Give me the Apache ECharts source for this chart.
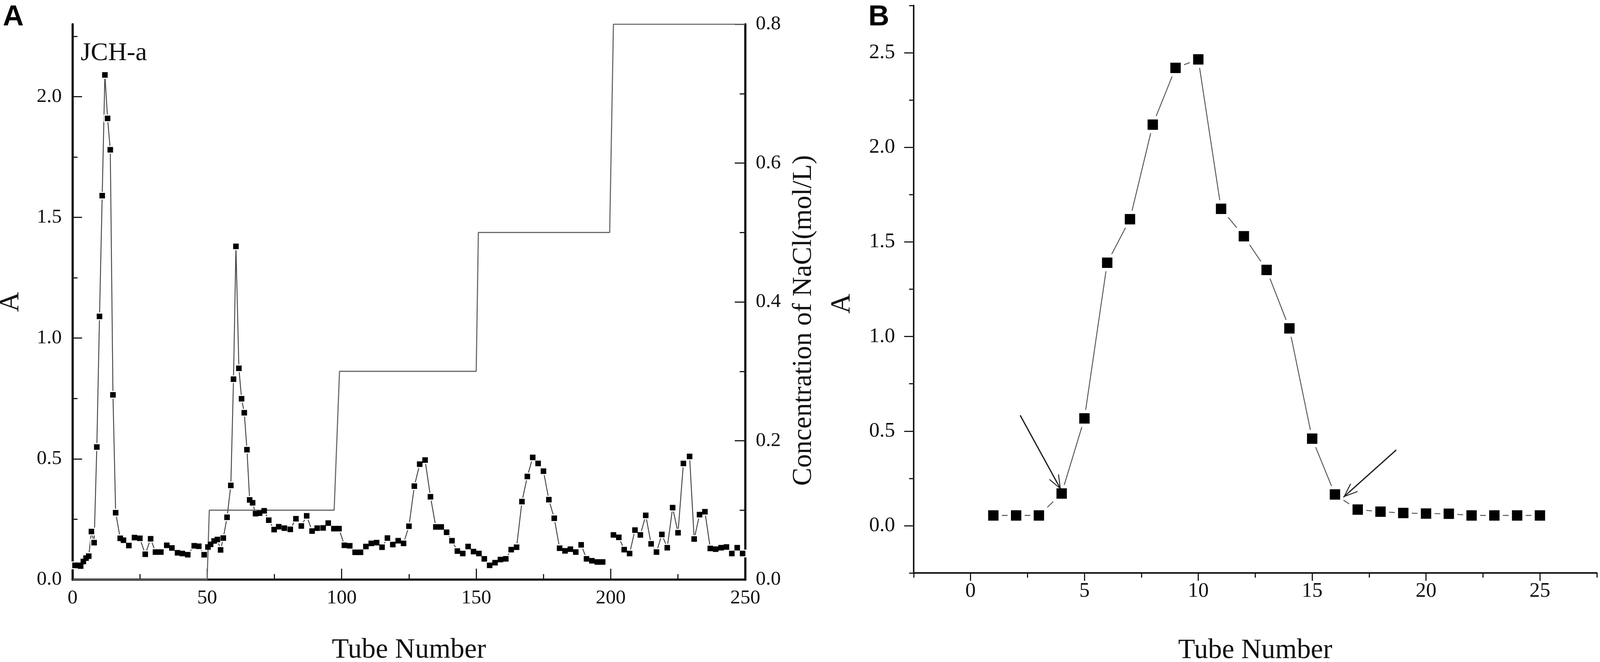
<!DOCTYPE html>
<html>
<head>
<meta charset="utf-8">
<script src="https://cdn.jsdelivr.net/npm/echarts@6/dist/echarts.min.js"></script>
<style>
html,body{margin:0;padding:0;background:#fff;overflow:hidden;}
#chart{width:100vw;height:100vh;}
</style>
</head>
<body>
<div id="chart"></div>
<script>
// ---------- Panel A: absorbance per tube ----------
const tubesA = [0.9,2,3,4,5,6,7,8,9,10,11,12,13,14,15,16,17.7,18.9,20.9,23,25,27,29,30.8,32.8,35,36.9,39,40.8,42.8,45.2,46.9,48.9,50.3,51.3,52.6,53.8,55,56,57.4,58.8,59.8,60.7,61.8,62.8,63.8,64.8,65.8,66.9,68,69.5,71.2,72.9,74.9,76.6,78.7,80.9,83,85,87,89,90.9,93.1,95,97.1,99,101,103,105,107,109,111,113,115,117,119,121,123,125,127,129,131,133,135,137,139,141,143,145,147,149,151,153,155,157,159,161,163,165,167,169,171,173,175,177,179,181,183,185,187,189,191,193,195,197,199,201,203,205,207,209,211,213,215,217,219,221,223,225,227,229.3,231,233,235,237,239,241,243,245,247,249];
const absA = [0.059,0.059,0.056,0.075,0.089,0.097,0.199,0.153,0.549,1.09,1.59,2.09,1.91,1.78,0.765,0.277,0.171,0.163,0.141,0.174,0.171,0.105,0.169,0.114,0.114,0.142,0.131,0.111,0.108,0.103,0.14,0.138,0.103,0.135,0.146,0.16,0.166,0.123,0.172,0.258,0.39,0.83,1.38,0.875,0.749,0.691,0.538,0.33,0.318,0.273,0.275,0.285,0.246,0.207,0.219,0.213,0.208,0.252,0.222,0.264,0.201,0.213,0.214,0.234,0.211,0.211,0.142,0.14,0.113,0.113,0.137,0.15,0.153,0.134,0.172,0.145,0.161,0.15,0.221,0.387,0.478,0.495,0.343,0.218,0.218,0.196,0.161,0.118,0.108,0.137,0.116,0.108,0.086,0.059,0.07,0.083,0.086,0.124,0.134,0.323,0.427,0.506,0.481,0.449,0.331,0.254,0.13,0.119,0.126,0.114,0.144,0.086,0.078,0.073,0.073,null,0.185,0.175,0.124,0.108,0.205,0.185,0.266,0.148,0.114,0.187,0.132,0.298,0.194,0.481,0.51,0.168,0.269,0.281,0.129,0.126,0.132,0.135,0.108,0.132,0.108];

// ---------- Panel A: NaCl step gradient ----------
const stepTubes = [0,50,50.8,97.2,99.2,150,150.8,199.6,201,250];
const stepConc  = [0,0,0.1,0.1,0.3,0.3,0.5,0.5,0.8,0.8];

// ---------- Panel B ----------
const tubesB = [1,2,3,4,5,6,7,8,9,10,11,12,13,14,15,16,17,18,19,20,21,22,23,24,25];
const absB = [0.054,0.054,0.054,0.17,0.567,1.39,1.62,2.12,2.42,2.465,1.675,1.53,1.352,1.043,0.46,0.165,0.085,0.074,0.067,0.064,0.063,0.054,0.054,0.054,0.054];

// arrows in panel B: [startX, startY, tipX, tipY, headCenterX, headCenterY]
const arrowB1 = [2.18,0.583,3.97,0.19,3.81,0.225];
const arrowB2 = [18.69,0.40,16.37,0.15,16.61,0.176];

// ---------- tick values ----------
const yLabelsA = [0,0.5,1.0,1.5,2.0];
const yMinorA = [0.25,0.75,1.25,1.75,2.25];
const xLabelsB = [0,5,10,15,20,25];
const xMinorB = [-2.5,2.5,7.5,12.5,17.5,22.5,27.5];
const yLabelsB = [0,0.5,1.0,1.5,2.0,2.5];
const yMinorB = [-0.25,0.25,0.75,1.25,1.75,2.25,2.75];

const el = document.getElementById('chart');
const W = el.clientWidth || window.innerWidth;
const H = el.clientHeight || window.innerHeight;
const sx = W / 4562, sy = H / 1695, s = (sx + sy) / 2;
const X = v => v * sx, Y = v => v * sy, S = v => v * s;

const serif = 'Liberation Serif';
const ink = '#111';
const dataA = tubesA.map((t,i)=>[t, absA[i]===null ? '-' : absA[i]]);
const dataStep = stepTubes.map((t,i)=>[t, stepConc[i]]);
const dataB = tubesB.map((t,i)=>[t, absB[i]]);

const arrowHead = 'path://M0,0 L12,20 L10.4,21 L0,3.6 L-10.4,21 L-12,20 Z';
function arrowLines(a){
  return [
    [{coord:[a[0],a[1]], symbol:'none'},{coord:[a[2],a[3]], symbol:'none'}],
    [{coord:[a[0],a[1]], symbol:'none'},{coord:[a[4],a[5]], symbol:arrowHead}]
  ];
}

const lab = (size, margin, extra) => Object.assign({fontFamily:serif,fontSize:S(size),color:ink,margin:margin}, extra||{});
const nameStyle = (size, extra) => Object.assign({fontFamily:serif,fontSize:S(size),color:ink}, extra||{});
const tickLine = w => ({color:ink,width:S(w)});

const chart = echarts.init(el, null, {renderer:'canvas', width:W, height:H});
const option = {
  animation:false,
  backgroundColor:'#fff',
  grid:[
    {left:X(207),top:Y(62),width:X(1918),height:Y(1422),outerBoundsMode:'none',containLabel:false},
    {left:X(2605),top:Y(14),width:X(1948),height:Y(1453),outerBoundsMode:'none',containLabel:false}
  ],
  xAxis:[
    {gridIndex:0,type:'value',position:'bottom',min:0,max:250,interval:50,
     axisLine:{onZero:false,lineStyle:tickLine(6)},
     axisTick:{inside:true,length:Y(28),lineStyle:tickLine(3)},
     minorTick:{show:true,splitNumber:2,length:Y(14),lineStyle:tickLine(3)},
     splitLine:{show:false},minorSplitLine:{show:false},
     axisLabel:lab(54,Y(22)),
     name:'Tube Number',nameLocation:'middle',nameGap:Y(146),nameTextStyle:nameStyle(75)},
    {gridIndex:1,type:'value',position:'bottom',min:-2.5,max:27.5,
     axisLine:{onZero:false,lineStyle:tickLine(4)},
     axisTick:{inside:false,length:Y(20),customValues:xLabelsB,lineStyle:tickLine(3)},
     splitLine:{show:false},
     axisLabel:lab(56,Y(21),{customValues:xLabelsB}),
     name:'Tube Number',nameLocation:'middle',nameGap:Y(164),nameTextStyle:nameStyle(75)},
    {gridIndex:1,type:'value',position:'bottom',offset:0,min:-2.5,max:27.5,
     axisLine:{show:false,onZero:false},
     axisTick:{inside:false,length:Y(12),customValues:xMinorB,lineStyle:tickLine(3)},
     splitLine:{show:false},axisLabel:{show:false}}
  ],
  yAxis:[
    {gridIndex:0,type:'value',position:'left',min:0,max:2.3,
     axisLine:{show:true,onZero:false,lineStyle:tickLine(6)},
     axisTick:{show:true,inside:true,length:X(27),customValues:yLabelsA,lineStyle:tickLine(3)},
     splitLine:{show:false},
     axisLabel:lab(54,X(31),{customValues:yLabelsA,formatter:v=>v.toFixed(1)}),
     name:'A',nameLocation:'middle',nameGap:X(136),nameRotate:90,nameTextStyle:nameStyle(75)},
    {gridIndex:0,type:'value',position:'left',offset:0,min:0,max:2.3,
     axisLine:{show:false,onZero:false},
     axisTick:{show:true,inside:true,length:X(14),customValues:yMinorA,lineStyle:tickLine(3)},
     splitLine:{show:false},axisLabel:{show:false}},
    {gridIndex:0,type:'value',position:'right',min:0,max:0.8,interval:0.2,
     axisLine:{show:true,onZero:false,lineStyle:tickLine(6)},
     axisTick:{show:true,inside:true,length:X(30),lineStyle:tickLine(3)},
     minorTick:{show:true,splitNumber:2,length:X(16),lineStyle:tickLine(3)},
     splitLine:{show:false},minorSplitLine:{show:false},
     axisLabel:lab(54,X(30),{formatter:v=>v.toFixed(1)}),
     name:'Concentration of NaCl(mol/L)',nameLocation:'middle',nameGap:X(128),nameRotate:90,
     nameTextStyle:nameStyle(73,{padding:[0,S(100),0,0]})},
    {gridIndex:1,type:'value',position:'left',min:-0.25,max:2.75,
     axisLine:{show:true,onZero:false,lineStyle:tickLine(4)},
     axisTick:{show:true,inside:false,length:X(27),customValues:yLabelsB,lineStyle:tickLine(3)},
     splitLine:{show:false},
     axisLabel:lab(56,X(53),{customValues:yLabelsB,formatter:v=>v.toFixed(1)}),
     name:'A',nameLocation:'middle',nameGap:X(164),nameRotate:90,
     nameTextStyle:nameStyle(75,{padding:[0,S(78),0,0]})},
    {gridIndex:1,type:'value',position:'left',offset:0,min:-0.25,max:2.75,
     axisLine:{show:false,onZero:false},
     axisTick:{show:true,inside:false,length:X(13),customValues:yMinorB,lineStyle:tickLine(3)},
     splitLine:{show:false},axisLabel:{show:false}}
  ],
  series:[
    // panel A: connecting line, white gap around symbols, step gradient, symbols
    {type:'line',xAxisIndex:0,yAxisIndex:0,data:dataA,symbol:'none',connectNulls:false,
     lineStyle:{color:'#444',width:S(2.5)},z:2,silent:true},
    {type:'scatter',xAxisIndex:0,yAxisIndex:0,data:dataA,symbol:'rect',symbolSize:S(21),
     itemStyle:{color:'#fff',opacity:1},z:3,silent:true},
    {type:'line',xAxisIndex:0,yAxisIndex:2,data:dataStep,symbol:'none',
     lineStyle:{color:'#666',width:S(3)},z:4,silent:true},
    {type:'scatter',xAxisIndex:0,yAxisIndex:0,data:dataA,symbol:'rect',symbolSize:S(15),
     itemStyle:{color:'#000',opacity:1},z:5,silent:true},
    // panel B
    {type:'line',xAxisIndex:1,yAxisIndex:3,data:dataB,symbol:'none',
     lineStyle:{color:'#555',width:S(2.5)},z:2,silent:true},
    {type:'scatter',xAxisIndex:1,yAxisIndex:3,data:dataB,symbol:'rect',symbolSize:S(46),
     itemStyle:{color:'#fff',opacity:1},z:3,silent:true},
    {type:'scatter',xAxisIndex:1,yAxisIndex:3,data:dataB,symbol:'rect',symbolSize:S(28),
     itemStyle:{color:'#000',opacity:1},z:5,silent:true,
     markLine:{silent:true,animation:false,symbolSize:[S(30),S(40)],
       label:{show:false},lineStyle:{color:'#222',width:S(3),type:'solid',opacity:1},
       emphasis:{disabled:true},
       data:arrowLines(arrowB1).concat(arrowLines(arrowB2))}}
  ],
  graphic:[
    {type:'text',left:X(8),top:Y(8),style:{text:'A',font:'bold '+S(78)+'px "Liberation Sans"',fill:'#000'}},
    {type:'text',left:X(2476),top:Y(8),style:{text:'B',font:'bold '+S(78)+'px "Liberation Sans"',fill:'#000'}},
    {type:'text',left:X(230),top:Y(104),style:{text:'JCH-a',font:S(70)+'px "Liberation Serif"',fill:'#111'}}
  ]
};
chart.setOption(option);
</script>
</body>
</html>
